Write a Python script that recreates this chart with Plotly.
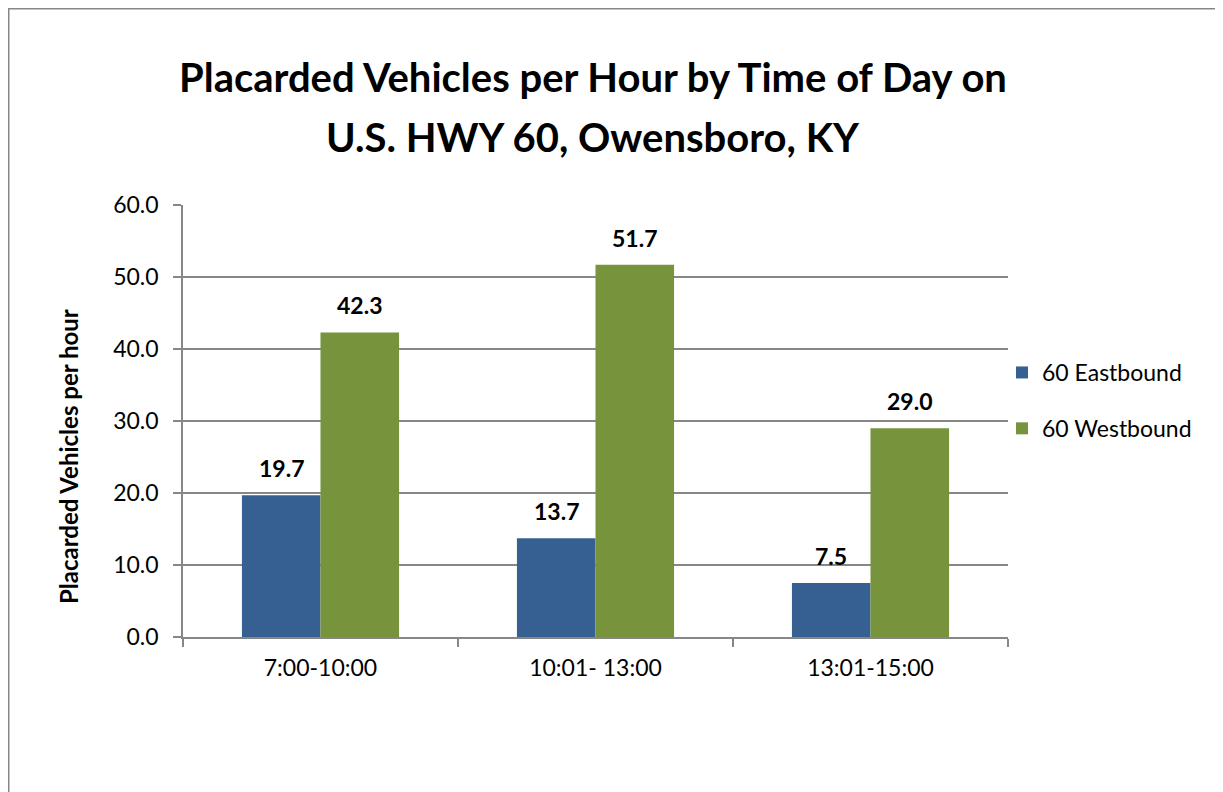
import plotly.graph_objects as go

categories = ["7:00-10:00", "10:01- 13:00", "13:01-15:00"]
eastbound = [19.7, 13.7, 7.5]
westbound = [42.3, 51.7, 29.0]
series_names = ["60 Eastbound", "60 Westbound"]
title_lines = ["Placarded Vehicles per Hour by Time of Day on", "U.S. HWY 60, Owensboro, KY"]
y_title = "Placarded Vehicles per hour"

FONT = "Lato, Carlito, Calibri, sans-serif"
BLUE = "#376092"
GREEN = "#77933C"
GRID = "#878787"

OFF = 8  # page body margin
W, H = 1223, 792
# plot area in screen pixels: x 183..1008, y 205..637
L = 183 - OFF
R = W - (1008 - OFF)
T = 205 - OFF
B = H - (637 - OFF)
pw = W - L - R
ph = H - T - B


def px_x(sx):
    return (sx - OFF - L) / pw


def px_y(sy):
    return (H - B - (sy - OFF)) / ph


fig = go.Figure()
for name, vals, col, grp in [(series_names[0], eastbound, BLUE, "a"), (series_names[1], westbound, GREEN, "b")]:
    fig.add_trace(go.Bar(x=categories, y=vals, name=name, marker=dict(color=col, line=dict(width=0)),
                         legendgroup=grp))

bar_w = pw / 3 / 3.5
annotations = []
for vals, shift in [(eastbound, -bar_w / 2), (westbound, bar_w / 2)]:
    for c, v in zip(categories, vals):
        annotations.append(dict(x=c, y=v, xref="x", yref="y", text=f"<b>{v:.1f}</b>", showarrow=False,
                                xshift=shift, yshift=11, yanchor="bottom",
                                font=dict(family=FONT, size=23, color="black")))

annotations.append(dict(x=px_x(593), y=px_y(77), xref="paper", yref="paper", text=f"<b>{title_lines[0]}</b>",
                        showarrow=False, xanchor="center", yanchor="middle",
                        font=dict(family=FONT, size=40, color="black")))
annotations.append(dict(x=px_x(593), y=px_y(137), xref="paper", yref="paper", text=f"<b>{title_lines[1]}</b>",
                        showarrow=False, xanchor="center", yanchor="middle",
                        font=dict(family=FONT, size=40, color="black")))
annotations.append(dict(x=px_x(68), y=px_y(456), xref="paper", yref="paper", text=f"<b>{y_title}</b>",
                        showarrow=False, xanchor="center", yanchor="middle", textangle=-90,
                        font=dict(family=FONT, size=24, color="black")))

fig.update_layout(
    width=W, height=H,
    margin=dict(l=L, r=R, t=T, b=B),
    paper_bgcolor="white", plot_bgcolor="white",
    barmode="group", bargap=1.5 / 3.5, bargroupgap=0,
    font=dict(family=FONT, size=23, color="black"),
    showlegend=True,
    legend=dict(x=px_x(1002), y=px_y(351), xanchor="left", yanchor="top",
                traceorder="grouped", tracegroupgap=23,
                font=dict(family=FONT, size=23, color="black"), bgcolor="rgba(0,0,0,0)"),
    annotations=annotations,
    shapes=[dict(type="rect", xref="paper", yref="paper", x0=px_x(8.5), x1=px_x(1260),
                 y0=px_y(8.5), y1=px_y(840), line=dict(color=GRID, width=2), layer="below")],
)
fig.update_xaxes(showline=True, linecolor=GRID, linewidth=1.5, ticks="outside", tickson="boundaries",
                 ticklen=8, tickcolor=GRID, tickwidth=1.5, showgrid=False, ticklabelstandoff=10,
                 tickfont=dict(family=FONT, size=23, color="black"))
fig.update_yaxes(range=[0, 60], dtick=10, tickformat=".1f", showline=True, linecolor=GRID, linewidth=1.5,
                 ticks="outside", ticklen=8, tickcolor=GRID, tickwidth=1.5, showgrid=True, gridcolor=GRID,
                 gridwidth=1.5, zeroline=False, ticklabelstandoff=10,
                 tickfont=dict(family=FONT, size=23, color="black"))

fig.write_html("out.html")
